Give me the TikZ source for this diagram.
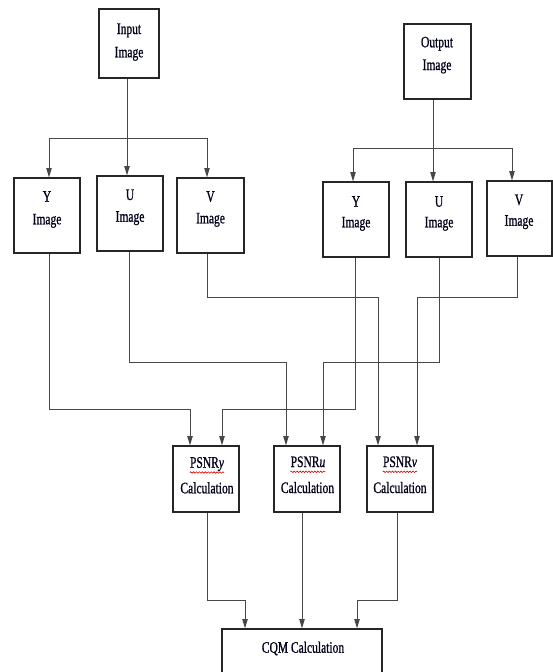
\documentclass[tikz,border=0pt]{standalone}
\usepackage{fontspec}
\newfontfamily\cf[FakeStretch=0.72,FakeBold=0.8]{Liberation Serif}
\usetikzlibrary{fit,arrows.meta,decorations.pathmorphing}
\begin{document}
\begin{tikzpicture}[x=0.75pt,y=-0.75pt,
  box/.style={draw=black!85, line width=0.85pt, inner sep=0pt},
  txt/.style={inner sep=0pt, anchor=base, font=\cf\fontsize{12}{14}\selectfont, text=black!90!blue},
  wire/.style={draw=black!72, line width=0.75pt},
  arr/.style={wire, -{Triangle[length=7pt,width=4pt]}},
  squig/.style={draw=red!85!black, line width=0.45pt, decorate, decoration={snake, amplitude=0.55pt, segment length=2.2pt}}
]
\fill[white] (0,0) rectangle (553,672);
\useasboundingbox (0,0) rectangle (553,672);

% boxes
\node[box, fit={(99,9) (159,78)}] (in) {};
\node[box, fit={(404,24) (471,99)}] (out) {};
\node[box, fit={(14,178) (80,253)}] (yl) {};
\node[box, fit={(97,176) (163,251)}] (ul) {};
\node[box, fit={(177,178) (244,253)}] (vl) {};
\node[box, fit={(323,182) (389,257)}] (yr) {};
\node[box, fit={(406,182) (472,257)}] (ur) {};
\node[box, fit={(487,181) (552,256)}] (vr) {};
\node[box, fit={(173,446) (239,512)}] (py) {};
\node[box, fit={(274,446) (340,512)}] (pu) {};
\node[box, fit={(367,446) (433,512)}] (pv) {};
\node[box, fit={(222,629) (382,700)}] (cqm) {};

% texts
\node[txt] (tin1) at (129,34) {Input};
\node[txt] (tin2) at (129,57.3) {Image};
\node[txt] (tout1) at (437,47.3) {Output};
\node[txt] (tout2) at (437,70) {Image};
\node[txt] (tyl1) at (47,201.7) {Y};
\node[txt] (tyl2) at (47,224.3) {Image};
\node[txt] (tul1) at (130,200) {U};
\node[txt] (tul2) at (130,221.7) {Image};
\node[txt] (tvl1) at (210.5,201.7) {V};
\node[txt] (tvl2) at (210.5,223.3) {Image};
\node[txt] (tyr1) at (356,206.7) {Y};
\node[txt] (tyr2) at (356,227.3) {Image};
\node[txt] (tur1) at (439,206.7) {U};
\node[txt] (tur2) at (439,227.3) {Image};
\node[txt] (tvr1) at (519,205) {V};
\node[txt] (tvr2) at (519,225.7) {Image};
\node[txt] (tpy1) at (207,467.7) {PSNR\textit{y}};
\node[txt] (tpy2) at (207,493.3) {Calculation};
\node[txt] (tpu1) at (308,467) {PSNR\textit{u}};
\node[txt] (tpu2) at (307.5,493) {Calculation};
\node[txt] (tpv1) at (400,467) {PSNR\textit{v}};
\node[txt] (tpv2) at (400,493) {Calculation};
\node[txt] (tcqm) at (303,652.7) {CQM Calculation};

% spell-check underlines
\draw[squig] ([yshift=-3.6pt]tpy1.base west) -- ([yshift=-3.6pt]tpy1.base east);
\draw[squig] ([yshift=-3.6pt]tpu1.base west) -- ([yshift=-3.6pt]tpu1.base east);
\draw[squig] ([yshift=-3.6pt]tpv1.base west) -- ([yshift=-3.6pt]tpv1.base east);

% split from input
\coordinate (jLy) at (49,138);
\coordinate (jLu) at (127,138);
\coordinate (jLv) at (207,138);
\draw[arr] (in.south -| jLu) -- (ul.north -| jLu);
\draw[wire] (jLy) -- (jLv);
\draw[arr] (jLy) -- (yl.north -| jLy);
\draw[arr] (jLv) -- (vl.north -| jLv);

% split from output
\coordinate (jRy) at (353,148);
\coordinate (jRu) at (433,148);
\coordinate (jRv) at (512,148);
\draw[arr] (out.south -| jRu) -- (ur.north -| jRu);
\draw[wire] (jRy) -- (jRv);
\draw[arr] (jRy) -- (yr.north -| jRy);
\draw[arr] (jRv) -- (vr.north -| jRv);

% routing to PSNR boxes
\coordinate (kYl) at (190,409);
\coordinate (kYr) at (222,409);
\coordinate (kUl) at (286,362);
\coordinate (kUr) at (323,362);
\coordinate (kVl) at (378,297);
\coordinate (kVr) at (417,297);
\draw[arr] (yl.south -| 49,0) |- (kYl) -- (py.north -| kYl);
\draw[arr] (yr.south -| 355,0) |- (kYr) -- (py.north -| kYr);
\draw[arr] (ul.south -| 129,0) |- (kUl) -- (pu.north -| kUl);
\draw[arr] (ur.south -| 439,0) |- (kUr) -- (pu.north -| kUr);
\draw[arr] (vl.south -| 207,0) |- (kVl) -- (pv.north -| kVl);
\draw[arr] (vr.south -| 517,0) |- (kVr) -- (pv.north -| kVr);

% to CQM
\coordinate (kCl) at (245,600);
\coordinate (kCu) at (302,600);
\coordinate (kCr) at (357,600);
\draw[arr] (py.south -| 207,0) |- (kCl) -- (cqm.north -| kCl);
\draw[arr] (pu.south -| kCu) -- (cqm.north -| kCu);
\draw[arr] (pv.south -| 397,0) |- (kCr) -- (cqm.north -| kCr);
\end{tikzpicture}
\end{document}
